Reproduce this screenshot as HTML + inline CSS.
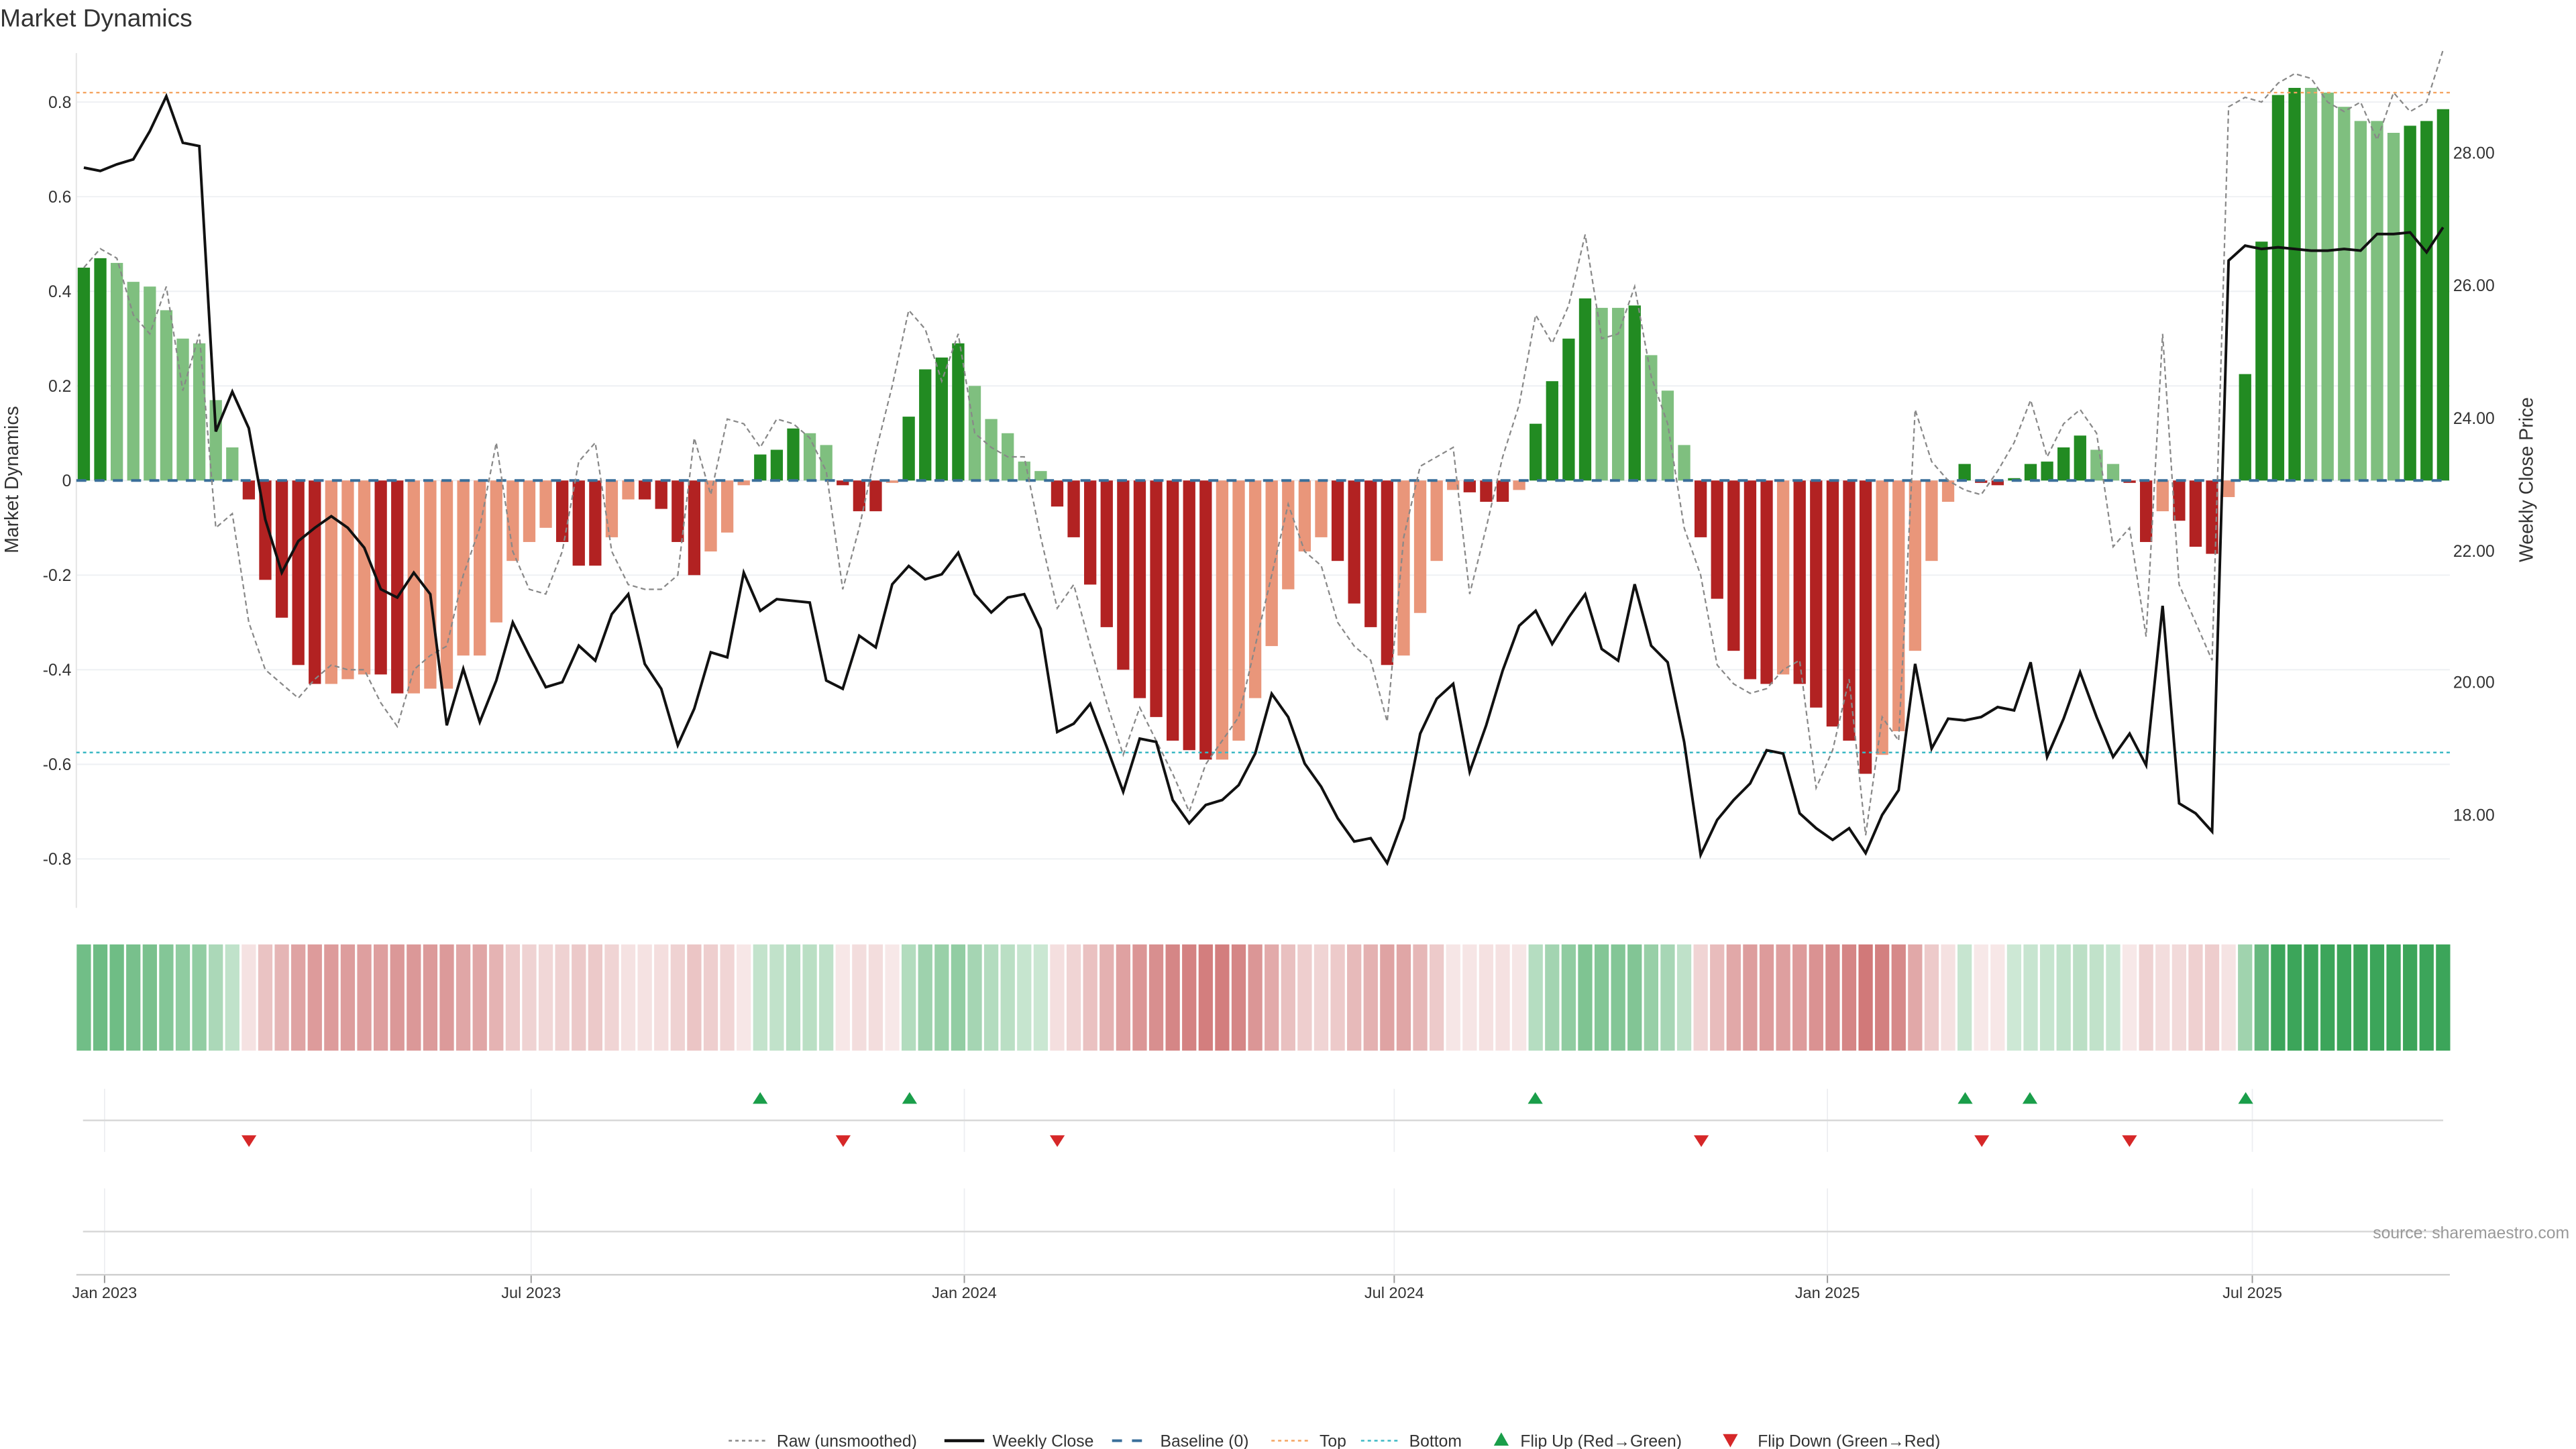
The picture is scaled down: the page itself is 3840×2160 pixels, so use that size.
<!DOCTYPE html>
<html><head><meta charset="utf-8"><style>html,body{margin:0;padding:0;background:#fff;width:3840px;height:2160px;overflow:hidden}svg{display:block;font-family:"Liberation Sans","DejaVu Sans",sans-serif}</style></head>
<body>
<svg id="c" width="3840" height="2160" viewBox="0 0 1552 873" xmlns="http://www.w3.org/2000/svg"></svg>
<script>
const V=[.45,.47,.46,.42,.41,.36,.30,.29,.17,.07,-.04,-.21,-.29,-.39,-.43,-.43,-.42,-.41,-.41,-.45,-.45,-.44,-.44,-.37,-.37,-.30,-.17,-.13,-.10,-.13,-.18,-.18,-.12,-.04,-.04,-.06,-.13,-.20,-.15,-.11,-.01,.055,.065,.11,.10,.075,-.01,-.065,-.065,-.005,.135,.235,.26,.29,.20,.13,.10,.04,.02,-.055,-.12,-.22,-.31,-.40,-.46,-.50,-.55,-.57,-.59,-.59,-.55,-.46,-.35,-.23,-.15,-.12,-.17,-.26,-.31,-.39,-.37,-.28,-.17,-.02,-.025,-.045,-.045,-.02,.12,.21,.30,.385,.365,.365,.37,.265,.19,.075,-.12,-.25,-.36,-.42,-.43,-.41,-.43,-.48,-.52,-.55,-.62,-.58,-.53,-.36,-.17,-.045,.035,-.005,-.01,.005,.035,.04,.07,.095,.065,.035,-.005,-.13,-.065,-.085,-.14,-.155,-.035,.225,.505,.815,.83,.83,.82,.79,.76,.76,.735,.75,.76,.785];
const D=[1,1,0,0,0,0,0,0,0,0,1,1,1,1,1,0,0,0,1,1,0,0,0,0,0,0,0,0,0,1,1,1,0,0,1,1,1,1,0,0,0,1,1,1,0,0,1,1,1,0,1,1,1,1,0,0,0,0,0,1,1,1,1,1,1,1,1,1,1,0,0,0,0,0,0,0,1,1,1,1,0,0,0,0,1,1,1,0,1,1,1,1,0,0,1,0,0,0,1,1,1,1,1,0,1,1,1,1,1,0,0,0,0,0,1,1,1,1,1,1,1,1,0,0,1,1,0,1,1,1,0,1,1,1,1,0,0,0,0,0,0,1,1,1];
const R=[.45,.49,.47,.35,.31,.41,.19,.31,-.10,-.07,-.3,-.4,-.43,-.46,-.42,-.39,-.40,-.40,-.47,-.52,-.40,-.37,-.35,-.2,-.1,.08,-.15,-.23,-.24,-.15,.04,.08,-.15,-.22,-.23,-.23,-.2,.09,-.03,.13,.12,.07,.13,.12,.09,.02,-.23,-.1,.06,.2,.36,.32,.21,.31,.1,.07,.05,.05,-.12,-.27,-.22,-.35,-.47,-.58,-.48,-.55,-.62,-.7,-.6,-.55,-.5,-.35,-.2,-.05,-.15,-.18,-.30,-.35,-.38,-.51,-.12,.03,.05,.07,-.24,-.1,.05,.16,.35,.29,.37,.52,.3,.31,.41,.22,.12,-.1,-.2,-.39,-.43,-.45,-.44,-.4,-.38,-.65,-.57,-.42,-.75,-.5,-.55,.15,.04,0,-.02,-.03,.02,.08,.17,.05,.12,.15,.1,-.14,-.1,-.33,.31,-.22,-.3,-.38,.79,.81,.8,.84,.86,.85,.8,.78,.8,.72,.82,.78,.8,.91];
const P=[101,103,99,96,79,58,86,88,260,236,258,313,345,326,318,311,318,330,355,360,345,358,437,403,435,410,375,395,414,411,389,398,370,358,400,415,449,427,393,396,345,368,361,362,363,410,415,383,390,352,341,349,346,333,358,369,360,358,379,441,436,424,450,477,445,447,482,496,485,482,473,454,418,432,460,474,493,507,505,520,493,442,421,412,465,437,404,377,368,388,372,358,391,398,352,389,399,447,515,494,482,472,452,454,490,499,506,499,514,491,476,400,451,433,434,432,426,428,399,456,433,405,432,456,442,461,365,484,490,501,157,148,150,149,150,151,151,150,151,141,141,140,152,137];
const X=i=>50.5+i*9.94, Y=v=>289.5-v*285;
let s='';
// grid
for(let t=-8;t<=8;t+=2){const y=Y(t/10);s+=`<line x1="46" x2="1476" y1="${y}" y2="${y}" stroke="#eef0f3" stroke-width="0.8"/>`;
s+=`<text x="43" y="${y+3.5}" font-size="10" text-anchor="end" fill="#333">${t==0?'0':(t/10).toFixed(1)}</text>`;}
s+=`<line x1="46" x2="46" y1="32" y2="547" stroke="#e5e5e5" stroke-width="0.8"/>`;
[[28,92],[26,172],[24,252],[22,332],[20,411],[18,491]].forEach(([p,y])=>{s+=`<text x="1478" y="${y+3.5}" font-size="10" fill="#333">${p.toFixed(2)}</text>`});
// bars
V.forEach((v,i)=>{const c=v>=0?(D[i]?'#228b22':'#7fbf7f'):(D[i]?'#b22222':'#e9967a');const y0=Y(0),y1=Y(v);s+=`<rect x="${X(i)-3.7}" y="${Math.min(y0,y1)}" width="7.4" height="${Math.abs(y1-y0)}" fill="${c}"/>`;});
// lines
s+=`<line x1="46" x2="1476" y1="${Y(.82)}" y2="${Y(.82)}" stroke="#f4a460" stroke-width="1" stroke-dasharray="2,2"/>`;
s+=`<line x1="46" x2="1476" y1="${Y(-.575)}" y2="${Y(-.575)}" stroke="#3bb8c4" stroke-width="1" stroke-dasharray="2,2"/>`;
s+=`<line x1="46" x2="1476" y1="${Y(0)}" y2="${Y(0)}" stroke="#3a6f9a" stroke-width="1.6" stroke-dasharray="6,5"/>`;
s+=`<polyline fill="none" stroke="#888" stroke-width="0.9" stroke-dasharray="3,2" points="${R.map((v,i)=>X(i)+','+Y(v)).join(' ')}"/>`;
s+=`<polyline fill="none" stroke="#111" stroke-width="1.6" points="${P.map((y,i)=>X(i)+','+y).join(' ')}"/>`;
// strip
V.forEach((v,i)=>{let r,g,b,a;if(v>=0){a=Math.min(1,.25+.9*v/.85);[r,g,b]=[60,165,90];}else{a=Math.min(1,.15+.75*(-v)/.6);[r,g,b]=[205,110,110];}
const m=(c)=>Math.round(255+(c-255)*a);s+=`<rect x="${X(i)-4.3}" y="569" width="8.6" height="64" fill="rgb(${m(r)},${m(g)},${m(b)})"/>`;});
// event panels
const ticks=[[63,'Jan 2023'],[320,'Jul 2023'],[581,'Jan 2024'],[840,'Jul 2024'],[1101,'Jan 2025'],[1357,'Jul 2025']];
ticks.forEach(([x,l])=>{s+=`<line x1="${x}" x2="${x}" y1="656" y2="694" stroke="#eceef1" stroke-width="0.7"/><line x1="${x}" x2="${x}" y1="716" y2="767" stroke="#eceef1" stroke-width="0.7"/><line x1="${x}" x2="${x}" y1="768" y2="773" stroke="#999" stroke-width="0.8"/><text x="${x}" y="782" font-size="9.5" text-anchor="middle" fill="#333">${l}</text>`});
s+=`<line x1="50" x2="1472" y1="675" y2="675" stroke="#d8d8d8" stroke-width="1"/><line x1="50" x2="1472" y1="742" y2="742" stroke="#d8d8d8" stroke-width="1"/><line x1="46" x2="1476" y1="768" y2="768" stroke="#d0d0d0" stroke-width="1"/>`;
[458,548,925,1184,1223,1353].forEach(x=>{s+=`<polygon points="${x-4.5},665 ${x+4.5},665 ${x},658" fill="#1a9e4a"/>`});
[150,508,637,1025,1194,1283].forEach(x=>{s+=`<polygon points="${x-4.5},684 ${x+4.5},684 ${x},691" fill="#d62728"/>`});
s+=`<text x="1548" y="746" font-size="10" text-anchor="end" fill="#999">source: sharemaestro.com</text>`;
// titles
s+=`<text x="0" y="16" font-size="15" fill="#333">Market Dynamics</text>`;
s+=`<text transform="translate(11,289) rotate(-90)" font-size="11.5" text-anchor="middle" fill="#333">Market Dynamics</text>`;
s+=`<text transform="translate(1526,289) rotate(-90)" font-size="11.5" text-anchor="middle" fill="#333">Weekly Close Price</text>`;
// legend
const ly=868;let lg='';
lg+=`<line x1="439" x2="463" y1="${ly}" y2="${ly}" stroke="#888" stroke-dasharray="2,2"/><text x="468" y="${ly+3.5}" font-size="10" fill="#333">Raw (unsmoothed)</text>`;
lg+=`<line x1="569" x2="593" y1="${ly}" y2="${ly}" stroke="#111" stroke-width="1.8"/><text x="598" y="${ly+3.5}" font-size="10" fill="#333">Weekly Close</text>`;
lg+=`<line x1="670" x2="694" y1="${ly}" y2="${ly}" stroke="#3a6f9a" stroke-width="1.6" stroke-dasharray="6,6"/><text x="699" y="${ly+3.5}" font-size="10" fill="#333">Baseline (0)</text>`;
lg+=`<line x1="766" x2="790" y1="${ly}" y2="${ly}" stroke="#f4a460" stroke-dasharray="2,2"/><text x="795" y="${ly+3.5}" font-size="10" fill="#333">Top</text>`;
lg+=`<line x1="820" x2="844" y1="${ly}" y2="${ly}" stroke="#3bb8c4" stroke-dasharray="2,2"/><text x="849" y="${ly+3.5}" font-size="10" fill="#333">Bottom</text>`;
lg+=`<polygon points="900,${ly+3} 909,${ly+3} 904.5,${ly-5}" fill="#1a9e4a"/><text x="916" y="${ly+3.5}" font-size="10" fill="#333">Flip Up (Red→Green)</text>`;
lg+=`<polygon points="1038,${ly-4} 1047,${ly-4} 1042.5,${ly+4}" fill="#d62728"/><text x="1059" y="${ly+3.5}" font-size="10" fill="#333">Flip Down (Green→Red)</text>`;
s+=lg;
document.getElementById('c').innerHTML=s;
</script>
</body></html>
